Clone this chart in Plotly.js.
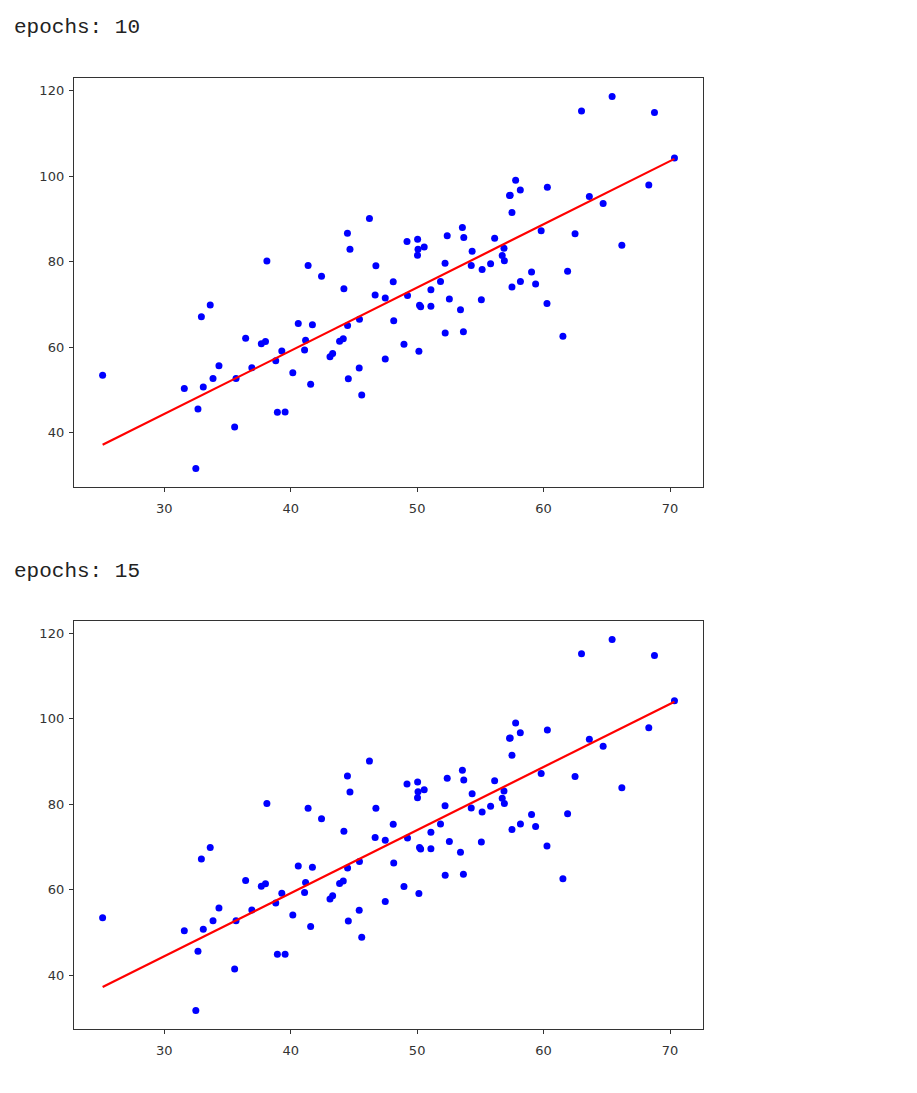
<!DOCTYPE html>
<html>
<head>
<meta charset="utf-8">
<script src="https://cdn.plot.ly/plotly-3.0.1.min.js"></script>
<style>
  body { margin: 0; background: #fff; }
  #plot { width: 917px; height: 1093px; }
</style>
</head>
<body>
<div id="plot"></div>
<script>
// study data (x, y)
var xs = [32.50, 53.43, 61.53, 47.48, 59.81, 55.14, 52.21, 39.30, 48.11, 52.55,
          45.42, 54.35, 44.16, 58.17, 56.73, 48.96, 44.69, 60.30, 45.62, 38.82,
          66.19, 65.42, 47.48, 41.58, 51.85, 59.37, 57.31, 63.62, 46.74, 50.56,
          52.22, 35.57, 42.44, 58.16, 57.50, 45.44, 61.90, 33.09, 36.44, 37.68,
          44.56, 43.32, 50.07, 43.87, 63.00, 32.67, 40.17, 53.58, 33.86, 64.71,
          38.12, 44.50, 40.60, 41.72, 51.09, 55.08, 41.38, 62.49, 49.20, 41.10,
          41.18, 50.19, 52.38, 50.14, 33.64, 39.56, 56.13, 57.36, 60.27, 35.68,
          31.59, 53.66, 46.68, 43.11, 70.35, 44.49, 57.50, 36.93, 55.81, 38.95,
          56.90, 56.87, 34.33, 59.05, 57.79, 54.28, 51.09, 50.28, 44.21, 38.01,
          32.94, 53.69, 68.77, 46.23, 68.32, 50.03, 49.24, 50.04, 48.15, 25.13];
var ys = [31.71, 68.78, 62.56, 71.55, 87.23, 78.21, 79.64, 59.17, 75.33, 71.30,
          55.17, 82.48, 62.01, 75.39, 81.44, 60.72, 82.89, 97.38, 48.85, 56.88,
          83.88, 118.59, 57.25, 51.39, 75.38, 74.77, 95.46, 95.23, 79.05, 83.43,
          63.36, 41.41, 76.62, 96.77, 74.08, 66.59, 77.77, 50.72, 62.12, 60.81,
          52.68, 58.57, 82.91, 61.42, 115.24, 45.57, 54.08, 87.99, 52.73, 93.58,
          80.17, 65.10, 65.56, 65.28, 73.43, 71.14, 79.10, 86.52, 84.74, 59.36,
          61.68, 69.85, 86.10, 59.11, 69.90, 44.86, 85.50, 95.54, 70.25, 52.72,
          50.39, 63.64, 72.25, 57.81, 104.26, 86.64, 91.49, 55.23, 79.55, 44.85,
          80.21, 83.14, 55.72, 77.63, 99.05, 79.12, 69.59, 69.51, 73.69, 61.37,
          67.17, 85.67, 114.85, 90.12, 97.92, 81.54, 72.11, 85.23, 66.22, 53.45];

// fitted line ends after each run
var lineX = [25.13, 70.35];
var lineY10 = [37.22, 104.04];
var lineY15 = [37.22, 104.04];

var titles = ['epochs: 10', 'epochs: 15'];
var xTicks = [30, 40, 50, 60, 70];
var yTicks = [40, 60, 80, 100, 120];

var W = 917, H = 1093;

function dots(xa, ya) {
    return {
        x: xs, y: ys, xaxis: xa, yaxis: ya,
        mode: 'markers', type: 'scatter',
        marker: { color: '#0000ff', size: 7 },
        hoverinfo: 'none'
    };
}
function fit(xa, ya, yv) {
    return {
        x: lineX, y: yv, xaxis: xa, yaxis: ya,
        mode: 'lines', type: 'scatter',
        line: { color: '#ff0000', width: 2.2 },
        hoverinfo: 'none'
    };
}

var data = [dots('x', 'y'), fit('x', 'y', lineY10), dots('x2', 'y2'), fit('x2', 'y2', lineY15)];

var tickFont = { family: 'DejaVu Sans', size: 13, color: '#333' };

function xaxis(anchor) {
    return {
        anchor: anchor,
        domain: [74 / W, 703 / W],
        range: [22.867, 72.607],
        tickvals: xTicks,
        ticks: 'outside', ticklen: 4, tickcolor: '#333', tickwidth: 1,
        ticklabelstandoff: 5,
        showline: true, linecolor: '#333', linewidth: 1.2, mirror: true,
        showgrid: false, zeroline: false,
        tickfont: tickFont
    };
}
function yaxis(anchor, top, bottom) {
    return {
        anchor: anchor,
        domain: [1 - bottom / H, 1 - top / H],
        range: [27.363, 122.935],
        tickvals: yTicks,
        ticks: 'outside', ticklen: 4, tickcolor: '#333', tickwidth: 1,
        ticklabelstandoff: 2,
        showline: true, linecolor: '#333', linewidth: 1.2, mirror: true,
        showgrid: false, zeroline: false,
        tickfont: tickFont
    };
}

var layout = {
    width: W, height: H,
    margin: { l: 0, r: 0, t: 0, b: 0 },
    showlegend: false,
    paper_bgcolor: '#fff',
    plot_bgcolor: '#fff',
    xaxis: xaxis('y'),
    yaxis: yaxis('x', 78, 487),
    xaxis2: xaxis('y2'),
    yaxis2: yaxis('x2', 621, 1029),
    annotations: [
        { text: titles[0], xref: 'paper', yref: 'paper', x: 12 / W, y: 1 - 28 / H,
          xanchor: 'left', yanchor: 'middle', showarrow: false,
          font: { family: 'Liberation Mono', size: 21, color: '#222' } },
        { text: titles[1], xref: 'paper', yref: 'paper', x: 12 / W, y: 1 - 571 / H,
          xanchor: 'left', yanchor: 'middle', showarrow: false,
          font: { family: 'Liberation Mono', size: 21, color: '#222' } }
    ]
};

Plotly.newPlot('plot', data, layout, { staticPlot: true });
</script>
</body>
</html>
